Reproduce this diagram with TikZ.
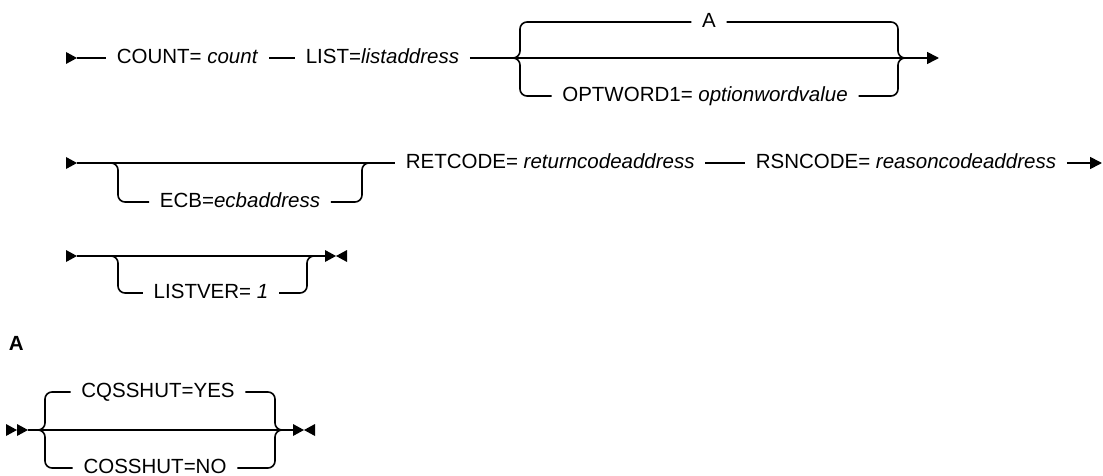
\documentclass[tikz,border=0pt]{standalone}
\usepackage{fontspec}
\setmainfont{Liberation Sans}
\usetikzlibrary{arrows.meta}
\tikzset{
	startmark/.pic={\fill (0,-6) -- (11,0) -- (0,6) -- cycle;},
	dblstart/.pic={\fill (0,-6) -- (11,0) -- (0,6) -- cycle; \fill (11,-6) -- (22,0) -- (11,6) -- cycle;},
	endmark/.pic={\fill (0,-6) -- (11,0) -- (0,6) -- cycle; \fill (22,-6) -- (11,0) -- (22,6) -- cycle;}
}
\begin{document}
\begin{tikzpicture}[x=1pt,y=-1pt,line width=1.6pt,font=\fontsize{20.5}{24}\selectfont,
	item/.style={inner xsep=10pt,inner ysep=0pt,text height=15pt,text depth=4pt},
	goal/.style={-{Triangle[length=12pt,width=12pt]}}]
	\useasboundingbox (0,0) rectangle (1103,476);

	\coordinate (r1s) at (77,58);
	\pic at (66,58) {startmark};
	\node (count)[item,anchor=west] at (106,58) {COUNT= \textit{count}};
	\node (list)[item,anchor=west] at (295,58) {LIST=\textit{listaddress}};
	\coordinate (b1in) at (512,58);
	\coordinate (b1l) at (520,58);
	\coordinate (b1r) at (898,58);
	\coordinate (b1out) at (905,58);
	\coordinate (r1e) at (939,58);
	\node (optA)[item] at (709,22) {A};
	\node (optw)[item] at (705,96) {OPTWORD1= \textit{optionwordvalue}};
	\draw (r1s) -- (count.west);
	\draw (count.east) -- (list.west);
	\draw[goal] (list.east) -- (r1e);
	\draw[rounded corners=7pt] (b1in) -- (b1l) |- (optA.west);
	\draw[rounded corners=7pt] (optA.east) -| (b1r) -- (b1out);
	\draw[rounded corners=7pt] (b1in) -- (b1l) |- (optw.west);
	\draw[rounded corners=7pt] (optw.east) -| (b1r) -- (b1out);

	\coordinate (r2s) at (77,163);
	\pic at (66,163) {startmark};
	\coordinate (o1in) at (110,163);
	\coordinate (o1l) at (118,163);
	\coordinate (o1r) at (362,163);
	\coordinate (o1out) at (370,163);
	\node (ecb)[item] at (240,202) {ECB=\textit{ecbaddress}};
	\node (ret)[item,anchor=west] at (395,163) {RETCODE= \textit{returncodeaddress}};
	\node (rsn)[item,anchor=west] at (745,163) {RSNCODE= \textit{reasoncodeaddress}};
	\coordinate (r2e) at (1102,163);
	\draw (r2s) -- (ret.west);
	\draw[rounded corners=7pt] (o1in) -- (o1l) |- (ecb.west);
	\draw[rounded corners=7pt] (ecb.east) -| (o1r) -- (o1out);
	\draw (ret.east) -- (rsn.west);
	\draw[goal] (rsn.east) -- (r2e);

	\coordinate (r3s) at (77,256);
	\pic at (66,256) {startmark};
	\coordinate (o2in) at (110,256);
	\coordinate (o2l) at (118,256);
	\coordinate (o2r) at (307,256);
	\coordinate (o2out) at (315,256);
	\coordinate (r3e) at (325,256);
	\node (lver)[item] at (211,293) {LISTVER= \textit{1}};
	\draw (r3s) -- (r3e);
	\pic at (r3e) {endmark};
	\draw[rounded corners=7pt] (o2in) -- (o2l) |- (lver.west);
	\draw[rounded corners=7pt] (lver.east) -| (o2r) -- (o2out);

	\node (labA)[anchor=west,inner sep=0pt] at (8,343) {\bfseries A};

	\coordinate (r5s) at (28,430);
	\pic at (6,430) {dblstart};
	\coordinate (b2in) at (38,430);
	\coordinate (b2l) at (45,430);
	\coordinate (b2r) at (275,430);
	\coordinate (b2out) at (282,430);
	\coordinate (r5e) at (293,430);
	\node (yes)[item] at (158,392) {CQSSHUT=YES};
	\node (no)[item] at (155,468) {COSSHUT=NO};
	\draw (r5s) -- (r5e);
	\pic at (r5e) {endmark};
	\draw[rounded corners=7pt] (b2in) -- (b2l) |- (yes.west);
	\draw[rounded corners=7pt] (yes.east) -| (b2r) -- (b2out);
	\draw[rounded corners=7pt] (b2in) -- (b2l) |- (no.west);
	\draw[rounded corners=7pt] (no.east) -| (b2r) -- (b2out);
\end{tikzpicture}
\end{document}
